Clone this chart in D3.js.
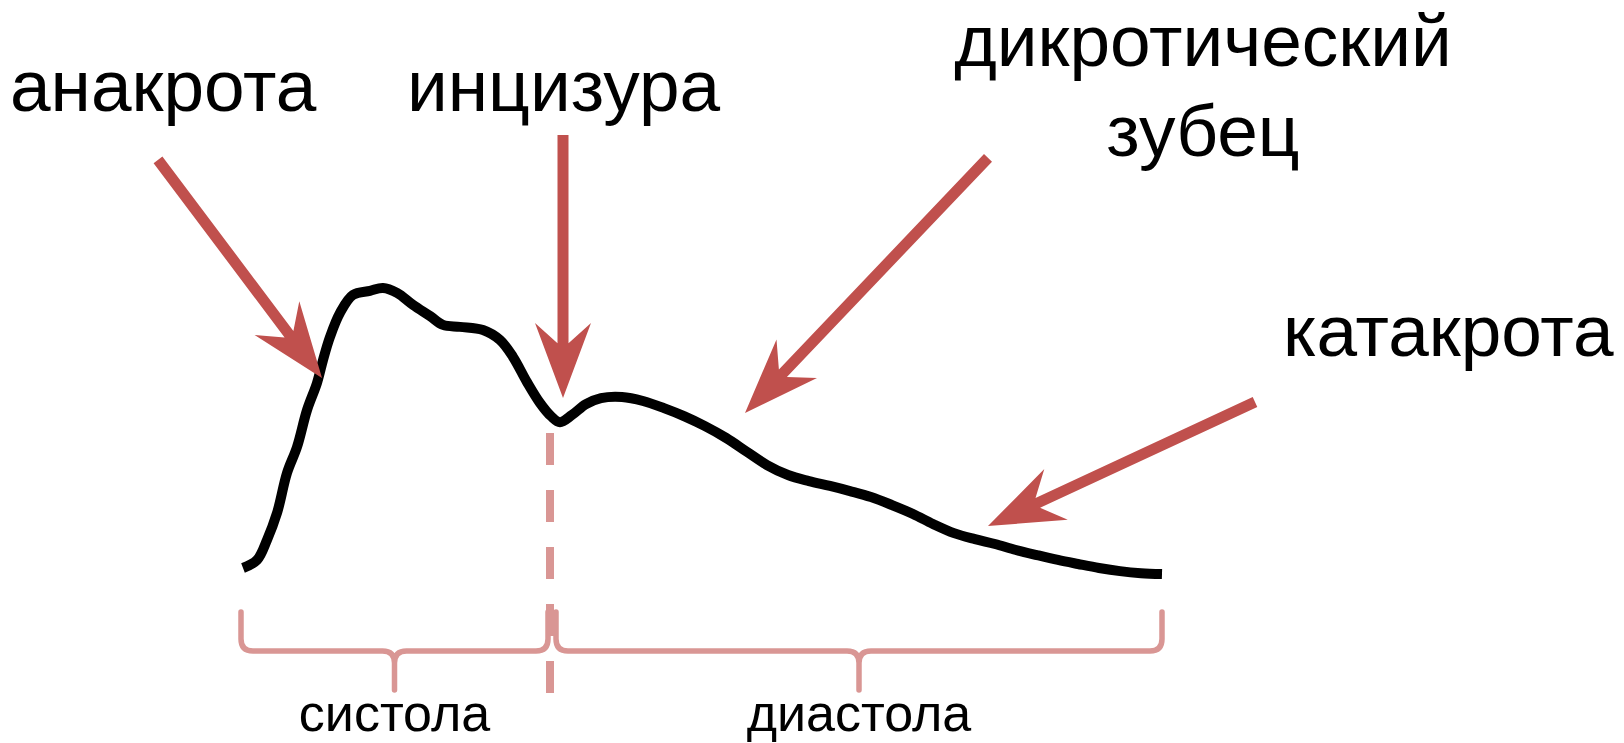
<!DOCTYPE html>
<html lang="ru">
<head>
<meta charset="UTF-8">
<title>Пульсовая волна</title>
<style>
  html, body { margin: 0; padding: 0; background: #fff; }
  svg { display: block; }
  text { font-family: "Liberation Sans", Arial, sans-serif; fill: #000; }
</style>
</head>
<body>
<svg id="chart" width="1624" height="743"></svg>
<script src="https://cdn.jsdelivr.net/npm/d3@7/dist/d3.min.js"></script>
<script>
// pulse wave: time (ms from start) and amplitude (% of peak)
var timeMs = [0, 14, 24, 34, 44, 54, 64, 74, 80, 87, 97, 110, 127, 140, 154, 170, 187, 200,
  217, 240, 257, 270, 284, 297, 308, 317, 329, 343, 358, 379, 400, 421, 441, 462, 483, 504,
  524, 545, 566, 587, 607, 628, 649, 670, 690, 711, 732, 752, 773, 794, 815, 835, 856, 877, 898, 919];
var amplitude = [2.1, 4.9, 11.9, 21.3, 35.3, 44.4, 57.3, 66.8, 74.8, 82.9, 91.3, 97.6, 99.0, 100,
  98.3, 94.1, 90.2, 87.1, 86.4, 85.3, 81.8, 75.9, 67.1, 59.8, 55.2, 53.1, 55.6, 59.4, 61.5, 61.9,
  60.5, 58.0, 55.2, 51.7, 47.6, 42.7, 38.1, 34.6, 32.5, 30.8, 29.0, 26.9, 24.1, 21.0, 17.5, 14.3,
  12.2, 10.5, 8.4, 6.6, 4.9, 3.5, 2.1, 1.0, 0.3, 0];

// annotations: label and arrow (tail -> tip) in the same time / amplitude units
var annoLabels = ["анакрота", "инцизура", "дикротический\nзубец", "катакрота"];
var arrowFrom = [[-85, 144.8], [320, 153.5], [745, 145.5], [1012, 60.1]];
var arrowTo   = [[79, 68.5],  [320, 61.5],  [502, 56.3],  [745, 16.8]];

// phases
var phaseNames = ["систола", "диастола"];
var phaseStart = [-2, 313];
var phaseEnd   = [305, 919];
var incisuraMs = 307;

var svg = d3.select("#chart");

var x = d3.scaleLinear().domain([0, 920]).range([243, 1163]);
var y = d3.scaleLinear().domain([0, 100]).range([574, 288]);

var red = "#c0504d", pink = "#d99694";

// dashed line at the incisura
svg.append("line")
  .attr("x1", x(incisuraMs)).attr("x2", x(incisuraMs))
  .attr("y1", 433).attr("y2", 693)
  .style("stroke", pink).style("stroke-width", 8)
  .style("stroke-dasharray", "32,25");

// braces under the curve
var braceTop = 612, braceMid = 651, braceTip = 690, r = 12;
function bracePath(a, b) {
  var m = (a + b) / 2;
  return "M" + a + "," + braceTop +
    " L" + a + "," + (braceMid - r) +
    " Q" + a + "," + braceMid + " " + (a + r) + "," + braceMid +
    " L" + (m - r) + "," + braceMid +
    " Q" + m + "," + braceMid + " " + m + "," + (braceMid + r) +
    " L" + m + "," + braceTip +
    " M" + m + "," + (braceMid + r) +
    " Q" + m + "," + braceMid + " " + (m + r) + "," + braceMid +
    " L" + (b - r) + "," + braceMid +
    " Q" + b + "," + braceMid + " " + b + "," + (braceMid - r) +
    " L" + b + "," + braceTop;
}
svg.selectAll("path.brace").data(phaseNames).enter().append("path")
  .attr("class", "brace")
  .attr("d", function(d, i) { return bracePath(x(phaseStart[i]), x(phaseEnd[i])); })
  .style("fill", "none").style("stroke", pink).style("stroke-width", 5.5)
  .style("stroke-linecap", "round");

svg.selectAll("text.phase").data(phaseNames).enter().append("text")
  .attr("class", "phase")
  .attr("x", function(d, i) { return (x(phaseStart[i]) + x(phaseEnd[i])) / 2; })
  .attr("y", 731)
  .attr("text-anchor", "middle")
  .style("font-size", "52px")
  .text(function(d) { return d; });

// the pulse curve
var line = d3.line()
  .x(function(d, i) { return x(timeMs[i]); })
  .y(function(d) { return y(d); })
  .curve(d3.curveCatmullRom.alpha(0.5));
svg.append("path")
  .datum(amplitude)
  .attr("d", line)
  .style("fill", "none").style("stroke", "#000").style("stroke-width", 10)
  .style("stroke-linejoin", "round").style("stroke-linecap", "butt");

// arrows with notched head
function arrowPath(from, to) {
  var x0 = x(from[0]), y0 = y(from[1]), x1 = x(to[0]), y1 = y(to[1]);
  var len = Math.hypot(x1 - x0, y1 - y0);
  var ux = (x1 - x0) / len, uy = (y1 - y0) / len;
  var nx = -uy, ny = ux;
  var w = 5.5, H = 28, headLen = 75, notch = 50;
  var neck = notch + (headLen - notch) * (w / H);
  function p(along, off) {
    return [x1 - ux * along + nx * off, y1 - uy * along + ny * off];
  }
  var pts = [
    [x0 + nx * w, y0 + ny * w], p(neck, w), p(headLen, H), [x1, y1],
    p(headLen, -H), p(neck, -w), [x0 - nx * w, y0 - ny * w]
  ];
  return "M" + pts.map(function(q) { return q[0].toFixed(1) + "," + q[1].toFixed(1); }).join("L") + "Z";
}
svg.selectAll("path.arrow").data(annoLabels).enter().append("path")
  .attr("class", "arrow")
  .attr("d", function(d, i) { return arrowPath(arrowFrom[i], arrowTo[i]); })
  .style("fill", red);

// labels
var labelPos = [
  { x: 10, y: 111, anchor: "start" },
  { x: 407, y: 111, anchor: "start" },
  { x: 1203, y: 66, anchor: "middle" },
  { x: 1283, y: 356, anchor: "start" }
];
annoLabels.forEach(function(lbl, i) {
  var t = svg.append("text")
    .attr("x", labelPos[i].x).attr("y", labelPos[i].y)
    .attr("text-anchor", labelPos[i].anchor)
    .style("font-size", "73px");
  lbl.split("\n").forEach(function(part, k) {
    t.append("tspan").attr("x", labelPos[i].x).attr("dy", k === 0 ? 0 : 90).text(part);
  });
});
</script>
</body>
</html>
